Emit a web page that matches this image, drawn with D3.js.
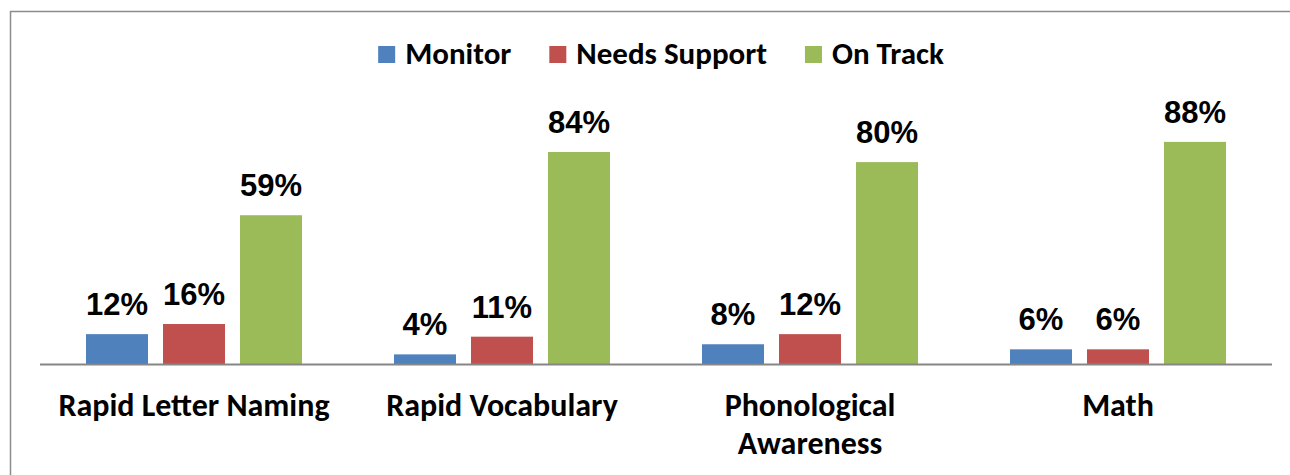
<!DOCTYPE html>
<html>
<head>
<meta charset="utf-8">
<script src="https://cdn.jsdelivr.net/npm/d3@7"></script>
<style>
  html, body { margin: 0; padding: 0; background: #fff; overflow: hidden; }
  .cat-label { font-family: Carlito, Lato, "Open Sans", sans-serif; font-weight: bold; font-size: 32px; fill: #000; }
  .legend-label { font-family: Carlito, Lato, "Open Sans", sans-serif; font-weight: bold; font-size: 31px; fill: #000; }
  .value-label { font-family: "Liberation Sans", Arial, sans-serif; font-weight: bold; font-size: 31px; fill: #000; }
</style>
</head>
<body>
<div id="chart"></div>
<script>

const categories = [["Rapid Letter Naming"], ["Rapid Vocabulary"], ["Phonological", "Awareness"], ["Math"]];
const seriesNames = ["Monitor", "Needs Support", "On Track"];
const monitor = [12, 4, 8, 6];
const needsSupport = [16, 11, 12, 6];
const onTrack = [59, 84, 80, 88];
const colors = ["#4f81bd", "#c0504d", "#9bbb59"];

const width = 1290;
const height = 475;
const plot = { left: 40, right: 1272, top: 111.5, bottom: 364.5 };

const series = [monitor, needsSupport, onTrack];

const svg = d3.select("#chart")
  .append("svg")
  .attr("width", width)
  .attr("height", height);

// outer frame, runs off the right and bottom edge like the source
svg.append("rect")
  .attr("x", 10.5)
  .attr("y", 11.5)
  .attr("width", width + 20)
  .attr("height", height + 20)
  .attr("fill", "none")
  .attr("stroke", "#8c8c8c")
  .attr("stroke-width", 1.5);

const catKeys = categories.map(d => d.join(" "));

const x0 = d3.scaleBand()
  .domain(catKeys)
  .range([plot.left, plot.right]);

const x1 = d3.scaleBand()
  .domain(seriesNames)
  .range([46, x0.bandwidth() - 46])
  .paddingInner(0.195);

const y = d3.scaleLinear()
  .domain([0, 100])
  .range([plot.bottom, plot.top]);

const groups = svg.selectAll("g.group")
  .data(catKeys)
  .join("g")
  .attr("class", "group")
  .attr("transform", d => `translate(${x0(d)},0)`);

groups.selectAll("rect")
  .data((d, i) => seriesNames.map((s, j) => ({ name: s, value: series[j][i], color: colors[j] })))
  .join("rect")
  .attr("x", d => x1(d.name))
  .attr("y", d => y(d.value))
  .attr("width", x1.bandwidth())
  .attr("height", d => y(0) - y(d.value))
  .attr("fill", d => d.color);

groups.selectAll("text.value-label")
  .data((d, i) => seriesNames.map((s, j) => ({ name: s, value: series[j][i] })))
  .join("text")
  .attr("class", "value-label")
  .attr("x", d => x1(d.name) + x1.bandwidth() / 2)
  .attr("y", d => y(d.value) - 19)
  .attr("text-anchor", "middle")
  .text(d => d.value + "%");

// baseline
svg.append("line")
  .attr("x1", plot.left)
  .attr("x2", plot.right)
  .attr("y1", plot.bottom)
  .attr("y2", plot.bottom)
  .attr("stroke", "#868686")
  .attr("stroke-width", 2);

// category labels
const catLabels = svg.selectAll("text.cat-label")
  .data(categories)
  .join("text")
  .attr("class", "cat-label")
  .attr("text-anchor", "middle")
  .attr("x", d => x0(d.join(" ")) + x0.bandwidth() / 2)
  .attr("y", 416);

catLabels.selectAll("tspan")
  .data(d => d)
  .join("tspan")
  .attr("x", function() { return d3.select(this.parentNode).attr("x"); })
  .attr("dy", (d, i) => i === 0 ? 0 : 38)
  .text(d => d);

// legend
const legend = svg.append("g").attr("class", "legend");
let cursor = 0;
seriesNames.forEach((name, i) => {
  const item = legend.append("g").attr("transform", `translate(${cursor},0)`);
  item.append("rect")
    .attr("x", 0)
    .attr("y", 46)
    .attr("width", 17)
    .attr("height", 17)
    .attr("fill", colors[i]);
  const label = item.append("text")
    .attr("class", "legend-label")
    .attr("x", 27)
    .attr("y", 64)
    .text(name);
  cursor += 27 + label.node().getComputedTextLength() + 38;
});
const legendWidth = cursor - 38;
legend.attr("transform", `translate(${661 - legendWidth / 2},0)`);

</script>
</body>
</html>
